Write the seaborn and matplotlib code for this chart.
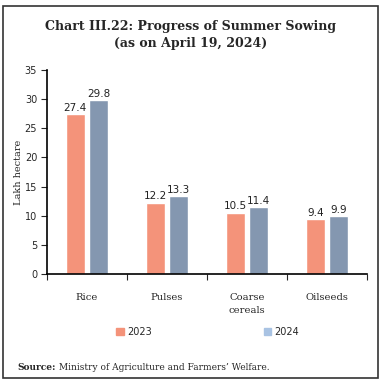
import numpy as np
import pandas as pd
import matplotlib.pyplot as plt
import matplotlib.patches as mpatches
import seaborn as sns

sns.set_style("white")

crops = ['Rice', 'Pulses', 'Coarse\ncereals', 'Oilseeds']
years = ['2023', '2024']
area_2023 = [27.4, 12.2, 10.5, 9.4]
area_2024 = [29.8, 13.3, 11.4, 9.9]

bar_cols = ['#F4937A', '#8497B0']
legend_cols = ['#F4937A', '#A9C3E3']

df = pd.DataFrame({
    'crop': crops * 2,
    'year': [years[0]] * 4 + [years[1]] * 4,
    'area': area_2023 + area_2024,
})

fig = plt.figure(figsize=(3.81, 3.83), dpi=100)
ax = fig.add_axes([0.123, 0.285, 0.840, 0.532])

sns.barplot(data=df, x='crop', y='area', hue='year', palette=bar_cols,
            width=0.58, gap=0.17, saturation=1, legend=False, ax=ax)

# value labels on top of bars
for cont in ax.containers:
    ax.bar_label(cont, fmt='%.1f', fontsize=7.5, padding=1, color='#222222')

ax.set_ylim(0, 35)
ax.set_yticks(np.arange(0, 36, 5))
ax.set_xlim(-0.5, 3.5)
# ticks between categories, labels centred under groups
ax.set_xticks([-0.5, 0.5, 1.5, 2.5, 3.5])
ax.set_xticklabels([])
ax.set_xticks(range(4), minor=True)
ax.set_xticklabels(crops, minor=True, family='DejaVu Serif', fontsize=7.2,
                   va='top', linespacing=1.5)
ax.tick_params(axis='x', which='minor', length=0, pad=14)
ax.tick_params(axis='x', which='major', length=4, width=0.8, direction='out', bottom=True)
ax.tick_params(axis='y', length=4, width=0.8, direction='out', left=True, labelsize=7, pad=3)

for s in ['top', 'right']:
    ax.spines[s].set_visible(False)
for s in ['left', 'bottom']:
    ax.spines[s].set_color('black')
    ax.spines[s].set_linewidth(1.2)

ax.set_xlabel('')
ax.set_ylabel('Lakh hectare', family='DejaVu Serif', fontsize=7, labelpad=1)

handles = [mpatches.Patch(color=c, label=y) for c, y in zip(legend_cols, years)]
fig.legend(handles=handles, loc='center', bbox_to_anchor=(0.545, 0.133), ncol=2,
           frameon=False, fontsize=7, handlelength=0.8, handleheight=0.8,
           handletextpad=0.3, columnspacing=11.5)

fig.text(0.5, 0.908, 'Chart III.22: Progress of Summer Sowing\n(as on April 19, 2024)',
         ha='center', va='center', family='DejaVu Serif', fontweight='bold',
         fontsize=9, linespacing=1.45)

src = fig.text(0.045, 0.04, 'Source:', family='DejaVu Serif', fontweight='bold', fontsize=6.5,
               ha='left', va='center')
ax.annotate(' Ministry of Agriculture and Farmers\u2019 Welfare.', xy=(1, 0.5), xycoords=src,
            va='center', ha='left', family='DejaVu Serif', fontsize=6.5,
            annotation_clip=False)

# frame around the whole chart
fig.patches.append(mpatches.Rectangle((0.008, 0.013), 0.984, 0.972, transform=fig.transFigure,
                                      fill=False, edgecolor='#333333', linewidth=1.2))

fig.savefig('out.png', dpi=100)
